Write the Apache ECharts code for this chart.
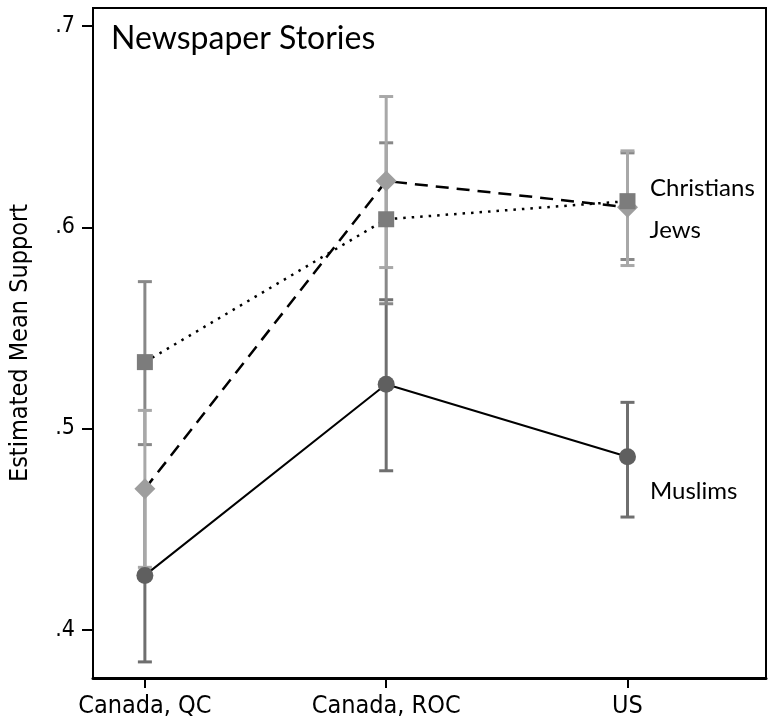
<!DOCTYPE html>
<html>
<head>
<meta charset="utf-8">
<script src="https://cdn.jsdelivr.net/npm/echarts@6/dist/echarts.min.js"></script>
<style>
  html, body { margin: 0; padding: 0; background: #fff; }
  #chart { width: 768px; height: 727px; }
</style>
</head>
<body>
<div id="chart"></div>
<script>
const categories = ['Canada, QC', 'Canada, ROC', 'US'];
const yTicks = [0.4, 0.5, 0.6, 0.7];

const muslims = [0.427, 0.522, 0.486];
const muslimsLo = [0.384, 0.479, 0.456];
const muslimsHi = [0.470, 0.564, 0.513];

const christians = [0.470, 0.623, 0.610];
const christiansLo = [0.431, 0.580, 0.581];
const christiansHi = [0.509, 0.665, 0.638];

const jews = [0.533, 0.604, 0.613];
const jewsLo = [0.492, 0.562, 0.584];
const jewsHi = [0.573, 0.642, 0.637];

const tickFont = '"DejaVu Sans Condensed", "DejaVu Sans", sans-serif';
const textFont = 'Lato, "Open Sans", sans-serif';

// error bar (rcap) built from lo/hi arrays
function capSeries (lo, hi, color) {
  return {
    type: 'custom',
    silent: true,
    z: 1,
    data: lo.map((v, i) => [i, v, hi[i]]),
    renderItem: function (params, api) {
      const x = api.value(0)
      const p1 = api.coord([x, api.value(1)])
      const p2 = api.coord([x, api.value(2)])
      const w = 7
      const style = { stroke: color, lineWidth: 3 }
      return {
        type: 'group',
        children: [
          { type: 'line', shape: { x1: p1[0], y1: p1[1], x2: p2[0], y2: p2[1] }, style: style },
          { type: 'line', shape: { x1: p1[0] - w, y1: p1[1], x2: p1[0] + w, y2: p1[1] }, style: style },
          { type: 'line', shape: { x1: p2[0] - w, y1: p2[1], x2: p2[0] + w, y2: p2[1] }, style: style }
        ]
      }
    }
  }
}

function lineSeries (name, values, symbol, size, color, lineStyle, labelOffset) {
  return {
    name: name,
    type: 'line',
    z: 3,
    symbol: symbol,
    symbolSize: size,
    itemStyle: { color: color },
    lineStyle: Object.assign({ color: '#000' }, lineStyle),
    data: values.map((v, i) => {
      const item = { value: [i, v] }
      if (i === values.length - 1) {
        item.label = {
          show: true,
          position: 'right',
          distance: 0,
          offset: labelOffset,
          formatter: name,
          color: '#000',
          fontFamily: textFont,
          fontSize: 24
        }
      }
      return item
    })
  }
}

const chart = echarts.init(document.getElementById('chart'))
chart.setOption({
  animation: false,
  backgroundColor: '#fff',
  title: {
    text: 'Newspaper Stories',
    left: 106,
    top: 18,
    textStyle: { fontFamily: textFont, fontSize: 32, fontWeight: 'normal', color: '#000' }
  },
  grid: {
    left: 91,
    right: 2,
    top: 8,
    bottom: 49,
    show: true,
    borderColor: '#000',
    borderWidth: 2
  },
  xAxis: {
    type: 'value',
    min: -0.215,
    max: 2.574,
    splitLine: { show: false },
    axisLine: { show: true, onZero: false, lineStyle: { color: '#000', width: 3 } },
    axisTick: { show: true, customValues: [0, 1, 2], length: 10, lineStyle: { color: '#000', width: 2 } },
    axisLabel: {
      customValues: [0, 1, 2],
      formatter: v => categories[Math.round(v)],
      margin: 16,
      color: '#000',
      fontFamily: tickFont,
      fontSize: 25
    }
  },
  yAxis: {
    type: 'value',
    min: 0.376,
    max: 0.709,
    name: 'Estimated Mean Support',
    nameLocation: 'middle',
    nameGap: 60,
    nameTextStyle: { fontFamily: tickFont, fontSize: 25, color: '#000' },
    splitLine: { show: false },
    axisLine: { show: true, onZero: false, lineStyle: { color: '#000', width: 2 } },
    axisTick: { show: true, customValues: yTicks, length: 11, lineStyle: { color: '#000', width: 2 } },
    axisLabel: {
      customValues: yTicks,
      formatter: v => v.toFixed(1).replace(/^0/, ''),
      margin: 18,
      padding: [10, 0, 0, 0],
      color: '#000',
      fontFamily: tickFont,
      fontSize: 23
    }
  },
  series: [
    capSeries(muslimsLo, muslimsHi, '#6f6f6f'),
    capSeries(jewsLo, jewsHi, '#888888'),
    capSeries(christiansLo, christiansHi, '#a8a8a8'),
    lineSeries('Muslims', muslims, 'circle', 17, '#5f5f5f', { width: 2, type: 'solid' }, [14, 35]),
    lineSeries('Christians', christians, 'diamond', 21, '#9e9e9e', { width: 2.5, type: [13, 8] }, [12, -19]),
    lineSeries('Jews', jews, 'rect', 16, '#7c7c7c', { width: 2.5, type: [2.5, 6] }, [14, 29])
  ]
})
</script>
</body>
</html>
